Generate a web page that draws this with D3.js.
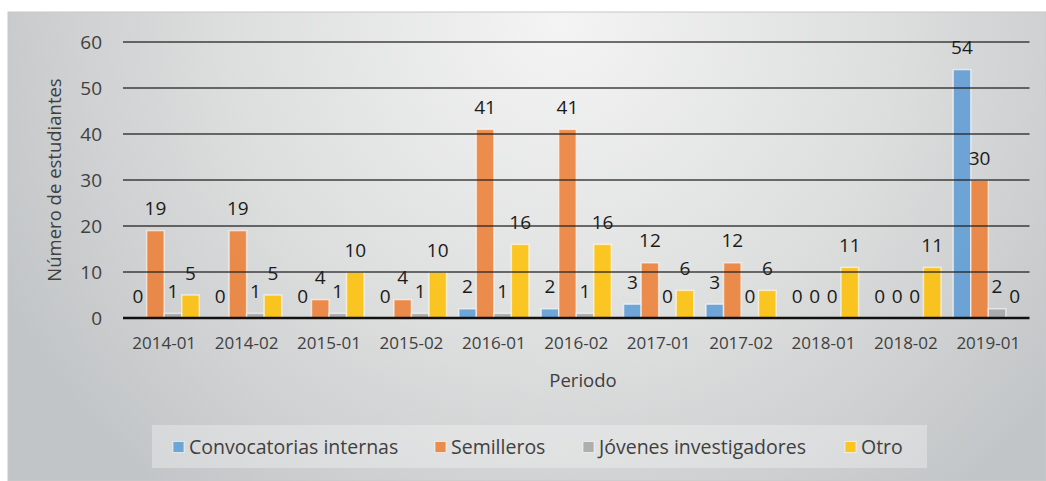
<!DOCTYPE html>
<html>
  <head>
    <script src="https://d3js.org/d3.v7.min.js"></script>
    <style>
      body { margin: 0; background: #fff; }
      svg { display: block; font-family: "Open Sans", sans-serif; }
    </style>
  </head>
  <body>
    <svg id="chart" width="1046" height="481"></svg>
    <script>
      // Data
      var periods = ["2014-01", "2014-02", "2015-01", "2015-02", "2016-01", "2016-02",
                     "2017-01", "2017-02", "2018-01", "2018-02", "2019-01"];
      var seriesNames = ["Convocatorias internas", "Semilleros", "Jóvenes investigadores", "Otro"];
      var convocatorias = [0, 0, 0, 0, 2, 2, 3, 3, 0, 0, 54];
      var semilleros = [19, 19, 4, 4, 41, 41, 12, 12, 0, 0, 30];
      var jovenes = [1, 1, 1, 1, 1, 1, 0, 0, 0, 0, 2];
      var otro = [5, 5, 10, 10, 16, 16, 6, 6, 11, 11, 0];
      var yTicks = [0, 10, 20, 30, 40, 50, 60];
      var colors = ["#5b9bd5", "#ed7d31", "#a5a5a5", "#ffc000"];

      var values = [convocatorias, semilleros, jovenes, otro];
      var svg = d3.select("#chart");

      // Background panel with soft gradient
      var defs = svg.append("defs");
      var grad = defs.append("radialGradient")
        .attr("id", "bg")
        .attr("gradientUnits", "userSpaceOnUse")
        .attr("cx", 560).attr("cy", 20).attr("r", 620);
      grad.append("stop").attr("offset", "0%").attr("stop-color", "#f4f4f4");
      grad.append("stop").attr("offset", "55%").attr("stop-color", "#dcdddd");
      grad.append("stop").attr("offset", "100%").attr("stop-color", "#c2c5c7");

      svg.append("rect")
        .attr("x", 8).attr("y", 12)
        .attr("width", 1046 - 8).attr("height", 481 - 12)
        .attr("fill", "url(#bg)")
        .attr("stroke", "#c8c8c8");

      var margin = {left: 123, right: 1029.5, top: 42, bottom: 318};

      var x = d3.scaleBand()
        .domain(periods)
        .range([margin.left, margin.right])
        .paddingInner(0)
        .paddingOuter(0);

      var xInner = d3.scaleBand()
        .domain(d3.range(seriesNames.length))
        .range([0, x.bandwidth()])
        .paddingOuter(0.35)
        .paddingInner(0);

      var y = d3.scaleLinear()
        .domain([0, 60])
        .range([margin.bottom, margin.top]);

      // Y axis tick labels
      svg.append("g").selectAll("text")
        .data(yTicks)
        .enter()
        .append("text")
        .attr("x", 102)
        .attr("y", function(d) { return y(d); })
        .attr("dy", "0.35em")
        .attr("text-anchor", "end")
        .attr("font-size", 19)
        .attr("fill", "#404040")
        .text(function(d) { return d; });

      // Bars
      var groups = svg.append("g").selectAll("g")
        .data(periods)
        .enter()
        .append("g")
        .attr("transform", function(d) { return "translate(" + x(d) + ",0)"; });

      groups.selectAll("rect")
        .data(function(d, i) { return values.map(function(s, k) { return {k: k, v: s[i]}; }); })
        .enter()
        .append("rect")
        .attr("x", function(d) { return xInner(d.k); })
        .attr("y", function(d) { return y(d.v); })
        .attr("width", xInner.bandwidth())
        .attr("height", function(d) { return y(0) - y(d.v); })
        .attr("fill", function(d) { return colors[d.k]; })
        .attr("fill-opacity", 0.85)
        .attr("stroke", "#fff")
        .attr("stroke-opacity", 0.6)
        .attr("stroke-width", 1.5);

      // Gridlines on top of bars
      svg.append("g").selectAll("line")
        .data(yTicks.filter(function(d) { return d > 0; }))
        .enter()
        .append("line")
        .attr("x1", margin.left).attr("x2", margin.right)
        .attr("y1", function(d) { return y(d); })
        .attr("y2", function(d) { return y(d); })
        .attr("stroke", "#222")
        .attr("stroke-opacity", 0.85)
        .attr("stroke-width", 1.3);

      svg.append("line")
        .attr("x1", margin.left).attr("x2", margin.right)
        .attr("y1", y(0)).attr("y2", y(0))
        .attr("stroke", "#111")
        .attr("stroke-width", 2.5);

      // Data labels
      groups.selectAll("text")
        .data(function(d, i) { return values.map(function(s, k) { return {k: k, v: s[i]}; }); })
        .enter()
        .append("text")
        .attr("x", function(d) { return xInner(d.k) + xInner.bandwidth() / 2; })
        .attr("y", function(d) { return y(d.v) - 22; })
        .attr("dy", "0.35em")
        .attr("text-anchor", "middle")
        .attr("font-size", 19)
        .attr("fill", "#1a1a1a")
        .text(function(d) { return d.v; });

      // X axis labels
      svg.append("g").selectAll("text")
        .data(periods)
        .enter()
        .append("text")
        .attr("x", function(d) { return x(d) + x.bandwidth() / 2; })
        .attr("y", 343)
        .attr("dy", "0.35em")
        .attr("text-anchor", "middle")
        .attr("font-size", 17)
        .attr("fill", "#404040")
        .text(function(d) { return d; });

      // Axis titles
      svg.append("text")
        .attr("x", 583).attr("y", 381)
        .attr("dy", "0.35em")
        .attr("text-anchor", "middle")
        .attr("font-size", 18.5)
        .attr("fill", "#404040")
        .text("Periodo");

      svg.append("text")
        .attr("transform", "translate(55,180) rotate(-90)")
        .attr("dy", "0.35em")
        .attr("text-anchor", "middle")
        .attr("font-size", 18.5)
        .attr("fill", "#404040")
        .text("Número de estudiantes");

      // Legend
      svg.append("rect")
        .attr("x", 152).attr("y", 425)
        .attr("width", 775).attr("height", 43)
        .attr("fill", "#fff")
        .attr("fill-opacity", 0.3);

      var legendX = [173, 435, 583, 845];
      var legend = svg.append("g").selectAll("g")
        .data(seriesNames)
        .enter()
        .append("g")
        .attr("transform", function(d, i) { return "translate(" + legendX[i] + ",447)"; });

      legend.append("rect")
        .attr("x", 0).attr("y", -5.5)
        .attr("width", 11).attr("height", 11)
        .attr("fill", function(d, i) { return colors[i]; })
        .attr("fill-opacity", 0.85)
        .attr("stroke", "#fff")
        .attr("stroke-opacity", 0.6);

      legend.append("text")
        .attr("x", 16)
        .attr("dy", "0.35em")
        .attr("font-size", 19.5)
        .attr("fill", "#404040")
        .text(function(d) { return d; });
    </script>
  </body>
</html>
